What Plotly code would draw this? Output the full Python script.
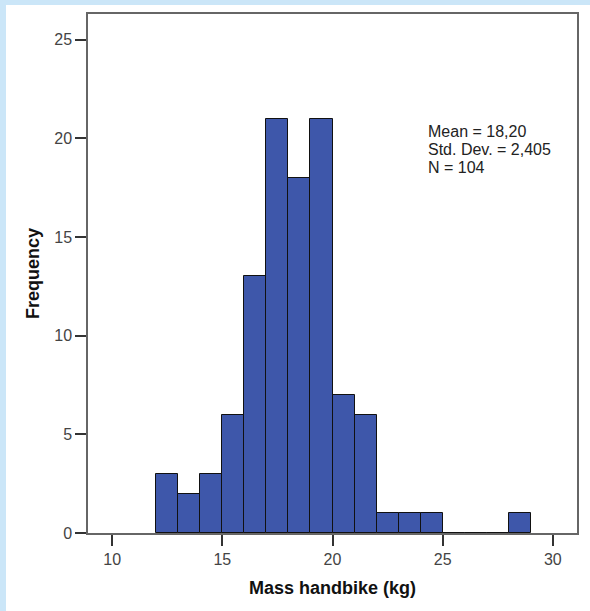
import plotly.graph_objects as go

bin_start = [12, 13, 14, 15, 16, 17, 18, 19, 20, 21, 22, 23, 24, 25, 26, 27, 28]
counts    = [3, 2, 3, 6, 13, 21, 18, 21, 7, 6, 1, 1, 1, 0, 0, 0, 1]
bin_width = 1
x_ticks = [10, 15, 20, 25, 30]
y_ticks = [0, 5, 10, 15, 20, 25]
stats_lines = ["Mean = 18,20", "Std. Dev. = 2,405", "N = 104"]

xs = [b + bin_width / 2 for b in bin_start]
FONT = "Liberation Sans, Arial"

fig = go.Figure()
fig.add_trace(go.Bar(
    x=xs, y=counts, width=bin_width,
    marker=dict(color="#3E57AA", line=dict(color="#111111", width=1)),
    hoverinfo="skip",
))

L, R, T, B = 88, 13, 14, 78
W, H = 590, 611
pw, ph = W - L - R, H - T - B

def px_x(p):
    return (p - L) / pw

def px_y(p):
    return (H - B - p) / ph

fig.add_shape(type="rect", xref="paper", yref="paper",
              x0=px_x(6), x1=px_x(W + 5), y0=px_y(H + 5), y1=px_y(5),
              fillcolor="white", line=dict(width=0), layer="below")

for i, line in enumerate(stats_lines):
    fig.add_annotation(text=line, xref="paper", yref="paper",
                       x=px_x(426), y=px_y(131 + 18 * i), xanchor="left", yanchor="middle",
                       showarrow=False, align="left",
                       font=dict(family=FONT, size=16, color="#222222"))

axis_common = dict(showgrid=False, zeroline=False, showline=True, mirror=True,
                   linecolor="#666666", linewidth=1.5,
                   ticks="outside", ticklen=11, tickwidth=1.5, tickcolor="#333333",
                   tickfont=dict(family=FONT, size=16, color="#444444"))

fig.update_layout(
    width=W, height=H,
    margin=dict(l=L, r=R, t=T, b=B),
    paper_bgcolor="#CBE6F8",
    plot_bgcolor="white",
    showlegend=False,
    bargap=0,
    xaxis=dict(range=[8.9, 31.1], tickvals=x_ticks,
               title=dict(text="<b>Mass handbike (kg)</b>", standoff=14,
                          font=dict(family=FONT, size=18, color="#111111")),
               **axis_common),
    yaxis=dict(range=[0, 26.3], tickvals=y_ticks,
               title=dict(text="<b>Frequency</b>", standoff=10,
                          font=dict(family=FONT, size=18, color="#111111")),
               **axis_common),
)

fig.write_html("out.html")
